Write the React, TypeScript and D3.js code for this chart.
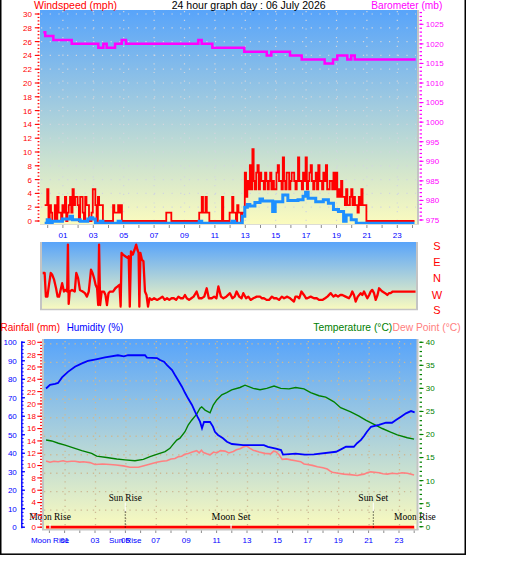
import React from 'react';
import * as d3 from 'd3';

const TITLE = '24 hour graph day : 06 July 2026';
const HOUR_LABELS = ['01', '03', '05', '07', '09', '11', '13', '15', '17', '19', '21', '23'];
const WIND_TICKS = [0, 2, 4, 6, 8, 10, 12, 14, 16, 18, 20, 22, 24, 26, 28, 30];
const BARO_TICKS = [975, 980, 985, 990, 995, 1000, 1005, 1010, 1015, 1020, 1025];
const DIR_LABELS = ['S', 'E', 'N', 'W', 'S'];
const DIR_LABEL_DEG = [180, 90, 0, -90, -180];
const HUM_TICKS = [0, 10, 20, 30, 40, 50, 60, 70, 80, 90, 100];
const RAIN_TICKS = [0, 2, 4, 6, 8, 10, 12, 14, 16, 18, 20, 22, 24, 26, 28, 30];
const TEMP_TICKS = [0, 5, 10, 15, 20, 25, 30, 35, 40];

// wind samples start at 23:48 of the previous day
const SAMPLE_START = -0.2;
const GUST_STEP = 1 / 12; // 5-minute gust readings
const AVG_STEP = 1 / 6; // 10-minute averages

// gust speed (mph), one row per hour
const WIND_GUST = [
  2.3, 2.3, 4.6, 0, 2.3, 1.2, 0, 0, 2.3, 0, 3.5, 1.2,
  1.2, 0, 2.3, 1.2, 3.5, 0, 1.2, 2.3, 3.5, 1.2, 4.6, 2.3,
  3.5, 3.5, 2.3, 0, 3.5, 3.5, 1.2, 0, 3.5, 2.3, 2.3, 0,
  0, 1.2, 4.6, 4.6, 2.3, 0, 3.5, 2.3, 2.3, 2.3, 0, 0,
  0, 0, 0, 0, 0, 0, 2.3, 1.2, 1.2, 1.2, 2.3, 1.2,
  2.3, 0, 0, 0, 0, 0, 0, 0, 0, 0, 0, 0,
  0, 0, 0, 0, 0, 0, 0, 0, 0, 0, 0, 0,
  0, 0, 0, 0, 0, 0, 0, 0, 0, 0, 0, 0,
  1.2, 1.2, 1.2, 1.2, 0, 0, 0, 0, 0, 0, 0, 0,
  0, 0, 0, 0, 0, 0, 0, 0, 0, 0, 0, 0,
  0, 0, 1.2, 1.2, 3.5, 1.2, 1.2, 3.5, 1.2, 1.2, 0, 0,
  0, 0, 0, 0, 0, 0, 0, 0, 3.5, 0, 0, 0,
  0, 0, 1.2, 1.2, 3.5, 1.2, 1.2, 0, 2.3, 1.2, 1.2, 0,
  1.2, 1.2, 7, 3.5, 5.8, 4.6, 8.1, 4.6, 10.4, 5.8, 4.6, 7,
  8.1, 4.6, 7, 5.8, 5.8, 4.6, 7, 5.8, 4.6, 5.8, 7, 4.6,
  5.8, 4.6, 4.6, 7, 8.1, 5.8, 5.8, 4.6, 9.2, 5.8, 4.6, 7,
  7, 4.6, 5.8, 7, 7, 5.8, 4.6, 5.8, 9.2, 5.8, 5.8, 4.6,
  7, 5.8, 9.2, 4.6, 5.8, 7, 8.1, 5.8, 4.6, 5.8, 7, 4.6,
  8.1, 5.8, 5.8, 4.6, 7, 5.8, 8.1, 4.6, 4.6, 5.8, 5.8, 4.6,
  7, 4.6, 7, 3.5, 4.6, 3.5, 5.8, 3.5, 3.5, 2.3, 4.6, 2.3,
  2.3, 3.5, 4.6, 2.3, 3.5, 2.3, 2.3, 1.2, 3.5, 2.3, 4.6, 2.3,
  2.3, 2.3, 0, 0, 0, 0, 0, 0, 0, 0, 0, 0,
  0, 0, 0, 0, 0, 0, 0, 0, 0, 0, 0, 0,
  0, 0, 0, 0, 0, 0, 0, 0, 0, 0, 0, 0,
  0, 0, 0, 0, 0,
];

// average speed (mph), one row per hour
const WIND_AVG = [
  0, 0.5, 0, 0.3, 0.3, 0.3,
  0.3, 0.6, 0.6, 0.6, 1.0, 0.5,
  0.5, 0.5, 0.3, 0.3, 0.3, 0.6,
  0.8, 0.6, 0, 0, 0.3, 0,
  0, 0, 0, 0, 0, 0.3,
  0, 0, 0, 0, 0, 0,
  0, 0, 0, 0, 0, 0,
  0, 0, 0, 0, 0, 0,
  0, 0, 0, 0, 0, 0,
  0, 0, 0, 0, 0, 0,
  0, 0.3, 0, 0, 0, 0,
  0, 0, 0, 0, 0, 0,
  0, 0, 0.3, 0, 0, 0,
  1.0, 2.3, 2.7, 2.5, 2.5, 3.0,
  3.0, 3.5, 3.2, 3.2, 3.2, 3.2,
  1.7, 3.1, 3.1, 3.1, 4.1, 4.1,
  3.3, 3.3, 3.3, 3.3, 3.4, 3.4,
  3.9, 4.5, 3.6, 3.6, 3.6, 3.1,
  3.1, 3.1, 3.4, 3.4, 2.9, 2.9,
  2.0, 2.0, 1.7, 1.7, 0.3, 1.2,
  1.2, 0.5, 0.5, 0, 0, 0,
  0, 0, 0, 0, 0, 0,
  0, 0, 0, 0, 0, 0,
  0, 0, 0, 0, 0, 0,
  0, 0, 0,
];

// barometer (mb): [hour, pressure], held until the next change
const BAROMETER: [number, number][] = [
  [-0.29, 1023], [-0.16, 1022], [0.37, 1021], [1.58, 1020], [3.33, 1019], [3.66, 1020],
  [3.88, 1019], [4.43, 1020], [4.87, 1021], [5.15, 1020], [9.91, 1021], [10.13, 1020],
  [10.83, 1019], [12.93, 1018], [14.41, 1017], [14.71, 1018], [15.94, 1017], [16.71, 1016],
  [18.22, 1015], [18.77, 1016], [19.05, 1017], [19.71, 1016], [19.97, 1017], [20.2, 1016],
  [24.21, 1016],
];

// wind direction: [hour, compass degrees]
const WIND_DIR: [number, number][] = [
  [-0.33, 18], [-0.2, 18], [-0.12, 248], [-0.02, 248], [0.1, 322], [0.2, 18], [0.3, 8],
  [0.42, 341], [0.55, 294], [0.65, 248], [0.75, 248], [0.85, 285], [0.95, 322], [1.07, 276],
  [1.18, 285], [1.28, 276], [1.33, 174], [1.38, 208], [1.45, 276], [1.6, 285], [1.78, 276],
  [1.88, 18], [2.0, 350], [2.12, 285], [2.3, 276], [2.45, 267], [2.58, 248], [2.7, 276],
  [2.85, 36], [2.95, 18], [3.05, 350], [3.15, 313], [3.25, 294], [3.32, 202], [3.38, 174],
  [3.45, 202], [3.55, 276], [3.7, 276], [3.8, 257], [3.9, 202], [4.0, 267], [4.1, 276],
  [4.3, 276], [4.45, 294], [4.6, 304], [4.72, 313], [4.8, 193], [4.86, 128], [4.95, 119],
  [5.1, 110], [5.25, 101], [5.33, 110], [5.4, 193], [5.48, 137], [5.6, 119], [5.72, 147],
  [5.82, 174], [5.9, 147], [5.98, 128], [6.03, 193], [6.1, 128], [6.2, 91], [6.3, 82],
  [6.4, 276], [6.5, 257], [6.6, 193], [6.7, 239], [6.85, 230], [7.0, 239], [7.2, 230],
  [7.4, 239], [7.55, 248], [7.7, 230], [7.85, 239], [8.0, 230], [8.15, 239], [8.3, 239],
  [8.45, 230], [8.6, 248], [8.75, 239], [8.9, 239], [9.03, 257], [9.15, 239], [9.3, 230],
  [9.45, 239], [9.6, 248], [9.8, 276], [9.95, 239], [10.13, 239], [10.3, 248], [10.46, 294],
  [10.6, 239], [10.79, 239], [10.95, 248], [11.1, 239], [11.23, 304], [11.4, 248], [11.56, 239],
  [11.75, 248], [11.99, 267], [12.15, 239], [12.3, 248], [12.43, 276], [12.6, 248], [12.75, 239],
  [12.87, 267], [13.05, 239], [13.2, 248], [13.35, 230], [13.53, 239], [13.75, 248], [13.97, 248],
  [14.1, 239], [14.23, 239], [14.4, 230], [14.56, 230], [14.75, 248], [14.89, 239], [15.05, 239],
  [15.22, 230], [15.4, 248], [15.55, 239], [15.76, 248], [15.95, 239], [16.2, 221], [16.3, 248],
  [16.42, 248], [16.55, 239], [16.69, 276], [16.86, 257], [17.0, 239], [17.08, 239], [17.3, 248],
  [17.52, 239], [17.7, 239], [17.85, 230], [18.07, 230], [18.25, 239], [18.4, 248], [18.62, 267],
  [18.8, 248], [18.94, 257], [19.1, 248], [19.25, 257], [19.38, 257], [19.6, 248], [19.82, 239],
  [19.95, 257], [20.04, 276], [20.15, 257], [20.26, 221], [20.4, 248], [20.59, 267], [20.7, 257],
  [20.81, 276], [20.92, 257], [21.03, 239], [21.15, 257], [21.25, 276], [21.35, 285], [21.47, 267],
  [21.58, 230], [21.7, 257], [21.8, 294], [21.9, 285], [22.02, 276], [22.2, 267], [22.34, 257],
  [22.45, 267], [22.56, 267], [22.7, 276], [22.78, 276], [24.2, 276],
];

// relative humidity (%): [hour, value]
const HUMIDITY: [number, number][] = [
  [-0.22, 75], [0.04, 77], [0.37, 77.5], [0.57, 78], [0.83, 81], [1.22, 84], [1.68, 86.8],
  [2.14, 88.6], [2.54, 89.9], [3.07, 90.8], [3.66, 91.9], [4.51, 93], [4.9, 92.4], [5.17, 93],
  [6.29, 93], [6.42, 91.7], [7.08, 91.5], [7.28, 90.4], [7.54, 89.5], [7.74, 87.7], [8.07, 85],
  [8.26, 82.3], [8.46, 79.6], [8.72, 76], [8.92, 72.7], [9.12, 69.7], [9.38, 66.1], [9.58, 62.5],
  [9.74, 59.8], [9.91, 57.1], [10.04, 53.5], [10.17, 56.9], [10.57, 56.9], [10.76, 54.4],
  [10.89, 51.6], [11.09, 49.9], [11.42, 48.1], [11.68, 46.2], [12.01, 45], [12.74, 44.4],
  [14.11, 44.4], [14.38, 43.5], [14.9, 42.5], [15.24, 41.7], [15.37, 39.3], [16.2, 39.8],
  [16.8, 39.2], [17.4, 39.4], [18.86, 40.8], [19.18, 42.1], [19.51, 43.5], [20.03, 43.5],
  [20.24, 45.4], [20.5, 47.2], [20.7, 49.3], [20.89, 51.6], [21.16, 54.3], [21.68, 55.3],
  [22.14, 56.5], [22.54, 56.5], [22.8, 58], [23.13, 59.8], [23.46, 61.6], [23.79, 62.8],
  [24.03, 62.1],
];

// temperature (°C): [hour, value]
const TEMPERATURE: [number, number][] = [
  [-0.22, 18.8], [0.15, 18.6], [0.59, 18.1], [1.03, 17.7], [1.68, 17], [2.13, 16.5],
  [2.78, 15.9], [3.11, 15.3], [3.77, 15], [4.43, 14.7], [4.97, 14.5], [5.63, 14.3],
  [6.18, 14.6], [6.62, 15.2], [7.06, 15.7], [7.61, 16.3], [7.93, 17], [8.15, 17.9],
  [8.38, 18.8], [8.59, 19.2], [8.92, 20.6], [9.14, 22.1], [9.36, 23.1], [9.69, 24.4],
  [9.91, 25.7], [10.02, 26], [10.24, 25.3], [10.57, 24.7], [10.78, 26.4], [11.01, 27.5],
  [11.34, 28.6], [11.66, 29.1], [11.99, 29.7], [12.54, 30.2], [12.87, 30.7], [13.41, 30],
  [13.86, 29.7], [14.3, 30], [14.78, 30.5], [15.22, 30], [15.76, 29.9], [16.2, 30.2],
  [16.75, 29.9], [17.19, 29.1], [17.74, 28.4], [18.18, 28.1], [18.72, 27.1], [19.16, 25.8],
  [19.82, 24.9], [20.37, 24], [20.81, 23.1], [21.36, 22.2], [21.9, 21.3], [22.45, 20.5],
  [22.89, 19.9], [23.55, 19.3], [23.99, 19],
];

// dew point (°C): [hour, value]
const DEW_POINT: [number, number][] = [
  [-0.22, 14.25], [0.04, 14], [0.3, 14.2], [0.57, 14.1], [0.9, 14.3], [1.14, 14.1],
  [1.45, 14.2], [1.68, 14.2], [2.0, 14.0], [2.23, 14.1], [2.67, 13.9], [3.0, 13.5],
  [3.5, 13.6], [3.99, 13.5], [4.4, 13.4], [4.86, 13.2], [5.3, 12.9], [5.85, 12.9],
  [6.4, 13.4], [7.06, 14], [7.4, 14.2], [7.72, 14.3], [8.0, 14.7], [8.26, 14.8],
  [8.5, 15.2], [8.7, 15.3], [8.9, 15.7], [9.14, 15.9], [9.4, 16.2], [9.69, 16.5],
  [9.85, 16.0], [10.0, 16.6], [10.13, 16.1], [10.35, 15.8], [10.57, 15.6], [10.8, 16.2],
  [11.01, 16], [11.25, 16.5], [11.55, 16.4], [11.8, 16.0], [12.1, 16.3], [12.3, 16.7],
  [12.54, 16.9], [12.75, 17.3], [12.98, 17.5], [13.2, 17.0], [13.41, 16.6], [13.8, 16.2],
  [14.18, 15.9], [14.56, 15.8], [14.75, 16.4], [14.89, 16.3], [15.11, 15.6], [15.32, 14.6],
  [15.6, 14.7], [15.88, 14.5], [16.2, 14.3], [16.53, 14.1], [16.75, 13.6], [16.97, 13.5],
  [17.3, 13.3], [17.63, 13], [18.0, 12.8], [18.28, 12.5], [18.45, 12.1], [18.61, 11.8],
  [19.0, 11.6], [19.38, 11.4], [19.8, 11.3], [20.26, 11.1], [20.5, 11.3], [20.7, 11.4],
  [20.9, 11.7], [21.14, 11.9], [21.4, 11.8], [21.68, 11.7], [21.95, 11.5], [22.23, 11.4],
  [22.55, 11.6], [22.89, 11.5], [23.2, 11.7], [23.55, 11.6], [23.8, 11.4], [23.99, 11.2],
];

// rainfall (mm): [hour, value]
const RAINFALL: [number, number][] = [[-0.22, 0], [24.03, 0]];

// sun and moon events
const EVENT_LABELS = ['Moon Rise', 'Sun Rise', 'Moon Set', 'Sun Set', 'Moon Rise'];
const EVENT_HOURS = [0.04, 4.99, 11.95, 21.31, 24.05];
const EVENT_KINDS = ['moon', 'sun', 'moon', 'sun', 'moon'];
const EVENT_ON_AXIS = [true, true, false, false, false];
const EVENT_TEXT_WIDTH = [41.7, 33, 39, 30, 41.7];

const SANS = 'Liberation Sans, Arial, sans-serif';
const SERIF = 'Liberation Serif, Times New Roman, serif';

const ODD_HOURS = HOUR_LABELS.map((h) => +h);
const ALL_HOURS = d3.range(0, 25);

export default function App() {
  // scales
  const xTop = d3.scaleLinear().domain([0, 24]).range([47.7, 412.5]);
  const xBot = d3.scaleLinear().domain([0, 24]).range([49.4, 414.2]);
  const yWind = d3.scaleLinear().domain([0, 30]).range([221, 14]);
  const yBaro = d3.scaleLinear().domain([975, 1025]).range([220, 24.3]);
  const yDir = d3.scaleLinear().domain([180, -180]).range([243.5, 309]);
  const yHum = d3.scaleLinear().domain([0, 100]).range([527.2, 342.3]);
  const yRain = d3.scaleLinear().domain([0, 30]).range([527.2, 342.3]);
  const yTemp = d3.scaleLinear().domain([0, 40]).range([526.7, 342.3]);

  const timed = (arr: number[], step: number) =>
    arr.map((v, i) => [SAMPLE_START + i * step, v] as [number, number]);

  const windLine = d3
    .line<[number, number]>()
    .x((d) => xTop(d[0]))
    .y((d) => yWind(d[1]))
    .curve(d3.curveStepAfter);
  const baroLine = d3
    .line<[number, number]>()
    .x((d) => xTop(d[0]))
    .y((d) => yBaro(d[1]))
    .curve(d3.curveStepAfter);
  const dirLine = d3
    .line<[number, number]>()
    .x((d) => xTop(d[0]))
    .y((d) => yDir(d[1] > 180 ? d[1] - 360 : d[1]));
  const humLine = d3
    .line<[number, number]>()
    .x((d) => xBot(d[0]))
    .y((d) => yHum(d[1]));
  const tempLine = d3
    .line<[number, number]>()
    .x((d) => xBot(d[0]))
    .y((d) => yTemp(d[1]));
  const rainLine = d3
    .line<[number, number]>()
    .x((d) => xBot(d[0]))
    .y((d) => yRain(d[1]));

  const gridTop = '#d2d6de';
  const gridBot = '#cdb994';
  const frame = '#c4c4c4';

  return (
    <svg
      width={529}
      height={563}
      style={{ position: 'absolute', left: 0, top: 0, background: '#ffffff' }}
    >
      <defs>
        <linearGradient id="sky" x1="0" y1="0" x2="0" y2="1">
          <stop offset="0" stopColor="#58a4fa" />
          <stop offset="1" stopColor="#fbfbbe" />
        </linearGradient>
        <clipPath id="clipTop">
          <rect x={40} y={10} width={377} height={214} />
        </clipPath>
        <clipPath id="clipMid">
          <rect x={41} y={242} width={376} height={67} />
        </clipPath>
        <clipPath id="clipBot">
          <rect x={43} y={339} width={374} height={190} />
        </clipPath>
      </defs>

      {/* outer frame */}
      <rect x={0.75} y={-2} width={464.5} height={556.2} fill="none" stroke="#000" strokeWidth={1.5} />

      {/* ---------- wind speed / barometer ---------- */}
      <rect x={40} y={10} width={377} height={214} fill="url(#sky)" />
      {WIND_TICKS.filter((v) => v > 0).map((v) => (
        <line key={'gw' + v} x1={41} x2={416} y1={yWind(v)} y2={yWind(v)} stroke={gridTop}
          strokeWidth={1.2} strokeDasharray="1.2 7.5" />
      ))}
      {ODD_HOURS.map((h) => (
        <line key={'gh' + h} x1={xTop(h)} x2={xTop(h)} y1={11} y2={223} stroke={gridTop}
          strokeWidth={1.2} strokeDasharray="1.2 7.5" />
      ))}
      <g clipPath="url(#clipTop)">
        <path d={baroLine(BAROMETER) || ''} fill="none" stroke="#ff00ff" strokeWidth={2.5} />
        <path d={windLine(timed(WIND_GUST, GUST_STEP)) || ''} fill="none" stroke="#ff0000" strokeWidth={1.8} />
        <g transform="translate(0,2.2)">
          <path d={windLine(timed(WIND_AVG, AVG_STEP)) || ''} fill="none" stroke="#1e90ff" strokeWidth={3} />
        </g>
      </g>
      <line x1={418} x2={418} y1={10} y2={225} stroke={frame} strokeWidth={2} />
      <line x1={40} x2={419} y1={224.5} y2={224.5} stroke="#dcdcd4" strokeWidth={1} />
      {ALL_HOURS.map((h) => (
        <line key={'tt' + h} x1={xTop(h)} x2={xTop(h)} y1={225} y2={228} stroke="#8c8c8c" strokeWidth={1} />
      ))}
      {HOUR_LABELS.map((l) => (
        <text key={'tl' + l} x={xTop(+l)} y={238} textAnchor="middle" fontFamily={SANS} fontSize={8}
          fill="#0000ff">{l}</text>
      ))}

      {/* wind axis */}
      {d3.range(0, 30.01, 0.5).map((v) => (
        <rect key={'wm' + v} x={37.6} y={yWind(v) - 0.6} width={1.8} height={1.2} fill="#ff0000" />
      ))}
      {WIND_TICKS.map((v) => (
        <g key={'wt' + v}>
          <line x1={34.8} x2={39.4} y1={yWind(v)} y2={yWind(v)} stroke="#ff0000" strokeWidth={1.1} />
          <text x={32} y={yWind(v) + 2.9} textAnchor="end" fontFamily={SANS} fontSize={8} fill="#ff0000">
            {v}
          </text>
        </g>
      ))}
      {/* barometer axis */}
      {d3.range(975, 1028.5, 1).map((v) => (
        <rect key={'bm' + v} x={419.6} y={yBaro(v) - 0.6} width={2.4} height={1.2} fill="#ff00ff" />
      ))}
      {BARO_TICKS.map((v) => (
        <g key={'bt' + v}>
          <line x1={419.6} x2={423.5} y1={yBaro(v)} y2={yBaro(v)} stroke="#ff00ff" strokeWidth={1.1} />
          <text x={425.8} y={yBaro(v) + 2.9} fontFamily={SANS} fontSize={8} fill="#ff00ff">
            {v}
          </text>
        </g>
      ))}

      <text x={34} y={9} fontFamily={SANS} fontSize={10.5} fill="#ff0000" textLength={83}
        lengthAdjust="spacingAndGlyphs">Windspeed (mph)</text>
      <text x={171.7} y={9} fontFamily={SANS} fontSize={10.5} fill="#000" textLength={154}
        lengthAdjust="spacingAndGlyphs">{TITLE}</text>
      <text x={371.3} y={9} fontFamily={SANS} fontSize={10.5} fill="#ff00ff" textLength={71}
        lengthAdjust="spacingAndGlyphs">Barometer (mb)</text>

      {/* ---------- wind direction ---------- */}
      <rect x={40} y={242} width={377} height={68} fill="url(#sky)" />
      <g clipPath="url(#clipMid)">
        <path d={dirLine(WIND_DIR) || ''} fill="none" stroke="#ff0000" strokeWidth={2.3}
          strokeLinejoin="round" />
      </g>
      <line x1={41} x2={41} y1={242} y2={310} stroke={frame} strokeWidth={2} />
      <line x1={40} x2={418} y1={309.5} y2={309.5} stroke={frame} strokeWidth={1.5} />
      <line x1={417} x2={417} y1={242} y2={310} stroke={frame} strokeWidth={2} />
      {DIR_LABELS.map((l, i) => (
        <text key={'dl' + i} x={437} y={Math.min(yDir(DIR_LABEL_DEG[i]) + 2, 310) + 4} textAnchor="middle"
          fontFamily={SANS} fontSize={11} fill="#ff0000">{l}</text>
      ))}

      {/* ---------- rainfall / humidity / temperature ---------- */}
      <text x={0.5} y={330.5} fontFamily={SANS} fontSize={10.5} fill="#ff0000" textLength={59.5}
        lengthAdjust="spacingAndGlyphs">Rainfall (mm)</text>
      <text x={66.7} y={330.5} fontFamily={SANS} fontSize={10.5} fill="#0000ff" textLength={56.6}
        lengthAdjust="spacingAndGlyphs">Humidity (%)</text>
      <text x={313.3} y={330.5} fontFamily={SANS} fontSize={10.5} fill="#008000" textLength={79}
        lengthAdjust="spacingAndGlyphs">Temperature (°C)</text>
      <text x={392.5} y={330.5} fontFamily={SANS} fontSize={10.5} fill="#ff8080" textLength={68.2}
        lengthAdjust="spacingAndGlyphs">Dew Point (°C)</text>

      <rect x={42} y={339} width={375} height={190} fill="url(#sky)" />
      {HUM_TICKS.filter((v) => v > 0).map((v) => (
        <line key={'gbh' + v} x1={44} x2={416} y1={yHum(v) + 1.5} y2={yHum(v) + 1.5} stroke={gridBot}
          strokeWidth={1.3} strokeDasharray="1.3 4.8" />
      ))}
      {ODD_HOURS.map((h) => (
        <line key={'gbv' + h} x1={xBot(h) + 0.5} x2={xBot(h) + 0.5} y1={341} y2={528} stroke={gridBot}
          strokeWidth={1.3} strokeDasharray="1.3 4.8" />
      ))}
      <g clipPath="url(#clipBot)">
        <path d={tempLine(DEW_POINT) || ''} fill="none" stroke="#ff8080" strokeWidth={1.6} />
        <path d={tempLine(TEMPERATURE) || ''} fill="none" stroke="#008000" strokeWidth={1.4} />
        <path d={humLine(HUMIDITY) || ''} fill="none" stroke="#0000ff" strokeWidth={1.8} />
        <path d={rainLine(RAINFALL) || ''} fill="none" stroke="#ff0000" strokeWidth={2.8} />
        {EVENT_HOURS.map((h, i) =>
          EVENT_KINDS[i] === 'sun' ? (
            <g key={'ev' + i}>
              <line x1={xBot(h)} x2={xBot(h)} y1={502.5} y2={511.5} stroke="#ffffff" strokeWidth={1} />
              <line x1={xBot(h)} x2={xBot(h)} y1={511.5} y2={529} stroke="#000" strokeWidth={1}
                strokeDasharray="1 2" />
            </g>
          ) : (
            <line key={'ev' + i} x1={xBot(h)} x2={xBot(h)} y1={524} y2={528.6} stroke="#ffffff" strokeWidth={1.2} />
          )
        )}
      </g>
      {EVENT_HOURS.map((h, i) => (
        <text key={'et' + i} x={xBot(h) - EVENT_TEXT_WIDTH[i] / 2} y={EVENT_KINDS[i] === 'sun' ? 501 : 520}
          fontFamily={SERIF} fontSize={9.5} fill="#000" textLength={EVENT_TEXT_WIDTH[i]}
          lengthAdjust="spacingAndGlyphs">{EVENT_LABELS[i]}</text>
      ))}
      <line x1={43} x2={43} y1={339} y2={530} stroke={frame} strokeWidth={2} />
      <line x1={42} x2={418.5} y1={529.7} y2={529.7} stroke={frame} strokeWidth={1.5} />
      <line x1={417.5} x2={417.5} y1={339} y2={530} stroke={frame} strokeWidth={2} />
      {ALL_HOURS.map((h) => (
        <line key={'bt' + h} x1={xBot(h)} x2={xBot(h)} y1={530.5} y2={533} stroke="#8c8c8c" strokeWidth={1} />
      ))}
      {HOUR_LABELS.map((l) => (
        <text key={'bl' + l} x={xBot(+l)} y={543} textAnchor="middle" fontFamily={SANS} fontSize={8}
          fill="#0000ff">{l}</text>
      ))}
      {EVENT_HOURS.map((h, i) =>
        EVENT_ON_AXIS[i] ? (
          <text key={'ea' + i} x={xBot(h)} y={543} textAnchor="middle" fontFamily={SANS} fontSize={8}
            fill="#0000ff">{EVENT_LABELS[i]}</text>
        ) : null
      )}

      {/* humidity axis */}
      <line x1={21.8} x2={21.8} y1={yHum(100) - 1} y2={yHum(0) + 1} stroke="#0000ff" strokeWidth={1.4} />
      {d3.range(0, 100.01, 2).map((v) => (
        <line key={'hm' + v} x1={21.8} x2={23.6} y1={yHum(v)} y2={yHum(v)} stroke="#0000ff" strokeWidth={1} />
      ))}
      {HUM_TICKS.map((v) => (
        <g key={'ht' + v}>
          <line x1={21.8} x2={25} y1={yHum(v)} y2={yHum(v)} stroke="#0000ff" strokeWidth={1.2} />
          <text x={16.8} y={yHum(v) + 2.9} textAnchor="end" fontFamily={SANS} fontSize={8} fill="#0000ff">
            {v}
          </text>
        </g>
      ))}
      {/* rainfall axis */}
      {d3.range(0, 30.01, 0.5).map((v) => (
        <rect key={'rm' + v} x={40.1} y={yRain(v) - 0.6} width={1.8} height={1.2} fill="#ff0000" />
      ))}
      {RAIN_TICKS.map((v) => (
        <g key={'rt' + v}>
          <line x1={37.3} x2={41.9} y1={yRain(v)} y2={yRain(v)} stroke="#ff0000" strokeWidth={1.1} />
          <text x={36} y={yRain(v) + 2.9} textAnchor="end" fontFamily={SANS} fontSize={8} fill="#ff0000">
            {v}
          </text>
        </g>
      ))}
      {/* temperature axis */}
      {d3.range(0, 40.01, 1).map((v) => (
        <rect key={'tm' + v} x={419.6} y={yTemp(v) - 0.6} width={2.4} height={1.2} fill="#008000" />
      ))}
      {TEMP_TICKS.map((v) => (
        <g key={'tt2' + v}>
          <line x1={419.6} x2={423.5} y1={yTemp(v)} y2={yTemp(v)} stroke="#008000" strokeWidth={1.1} />
          <text x={425.8} y={yTemp(v) + 2.9} fontFamily={SANS} fontSize={8} fill="#008000">
            {v}
          </text>
        </g>
      ))}
    </svg>
  );
}
